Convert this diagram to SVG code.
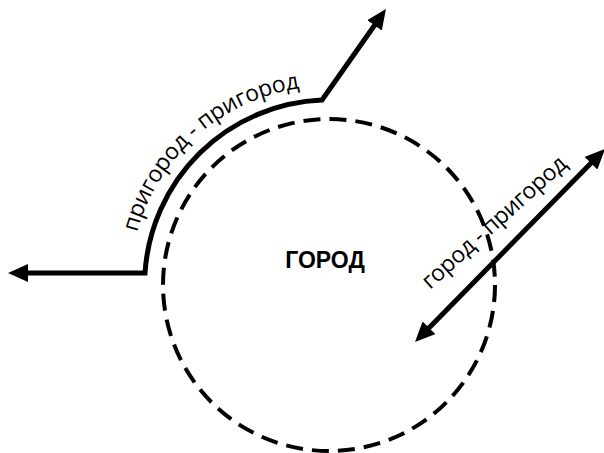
<svg xmlns="http://www.w3.org/2000/svg" width="604" height="453" viewBox="0 0 604 453">
<style>
.line{fill:none;stroke:#000;stroke-width:5;stroke-linejoin:miter}
.lbl{font-family:"Open Sans","DejaVu Sans",sans-serif;font-size:23px;fill:#000}
</style>
<defs>
<marker id="ah" markerUnits="userSpaceOnUse" viewBox="0 0 20 18" refX="10" refY="9" markerWidth="20" markerHeight="18" orient="auto-start-reverse">
<path d="M0,0 L20,9 L0,18 z" fill="#000"/>
</marker>
<path id="arcText" d="M133,250.4 A199,199 0 0 1 329,86"/>
</defs>
<rect width="604" height="453" fill="#fff"/>
<g id="city">
<circle cx="329" cy="285" r="166" fill="none" stroke="#000" stroke-width="4" stroke-dasharray="17 9.08"/>
<text x="325" y="268" text-anchor="middle" font-family="'Liberation Sans',Arial,sans-serif" font-weight="bold" font-size="23">ГОРОД</text>
</g>
<g id="connectors">
<path id="suburb-suburb" class="line" d="M18,273 L145,273 A185,185 0 0 1 322,100 L380.2,17.2" marker-start="url(#ah)" marker-end="url(#ah)"/>
<path id="city-suburb" class="line" d="M422,334.9 L598,156.1" marker-start="url(#ah)" marker-end="url(#ah)"/>
</g>
<g id="labels">
<text class="lbl"><textPath href="#arcText" startOffset="18.4" textLength="230" lengthAdjust="spacing">пригород - пригород</textPath></text>
<text class="lbl" transform="translate(430,290) rotate(-42)" textLength="186" lengthAdjust="spacing">город - пригород</text>
</g>
</svg>
